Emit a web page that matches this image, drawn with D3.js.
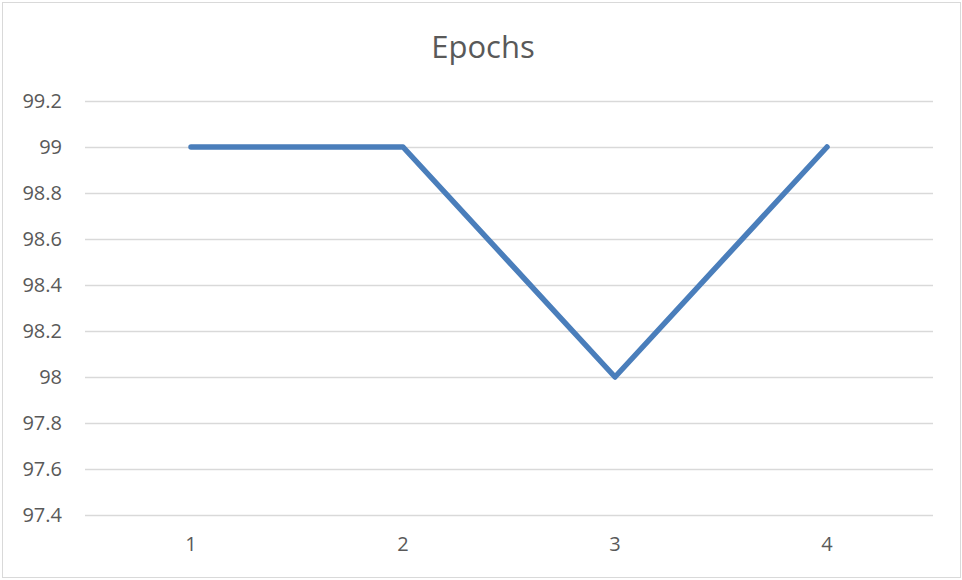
<!DOCTYPE html>
<html>
<head>
<meta charset="utf-8">
<script src="https://cdn.jsdelivr.net/npm/d3@7"></script>
<style>
  html, body { margin: 0; padding: 0; background: #fff; }
  svg { display: block; font-family: "Open Sans", "Noto Sans", sans-serif; }
</style>
</head>
<body>
<svg id="chart" width="962" height="580"></svg>
<script>
// Accuracy per epoch
const categories = ["1", "2", "3", "4"];
const values = [99, 99, 98, 99];
const yTicks = [97.4, 97.6, 97.8, 98, 98.2, 98.4, 98.6, 98.8, 99, 99.2];
const title = "Epochs";

const W = 962, H = 580;
const plot = { left: 85, right: 933, top: 101, bottom: 515 };

const svg = d3.select("#chart");

// outer chart border
svg.append("rect")
  .attr("x", 2.5).attr("y", 2.5)
  .attr("width", W - 4).attr("height", H - 5)
  .attr("fill", "#fff").attr("stroke", "#d9d9d9").attr("stroke-width", 1);

const x = d3.scaleBand().domain(categories).range([plot.left, plot.right]);
const y = d3.scaleLinear().domain([97.4, 99.2]).range([plot.bottom, plot.top]);

// horizontal gridlines
svg.append("g")
  .selectAll("line")
  .data(yTicks)
  .join("line")
  .attr("x1", plot.left).attr("x2", plot.right)
  .attr("y1", d => Math.round(y(d)) + 0.5).attr("y2", d => Math.round(y(d)) + 0.5)
  .attr("stroke", "#d9d9d9").attr("stroke-width", 1.5);

// y axis labels
const yAxis = d3.axisLeft(y).tickValues(yTicks).tickSize(0).tickPadding(0)
  .tickFormat(d => String(+d.toFixed(1)));
svg.append("g")
  .attr("transform", `translate(${plot.left - 23},0)`)
  .call(yAxis)
  .call(g => g.select(".domain").remove())
  .call(g => g.selectAll("text")
    .attr("fill", "#595959").attr("font-size", 20)
    .attr("font-family", "'Open Sans', sans-serif"));

// x axis labels
const xAxis = d3.axisBottom(x).tickSize(0).tickPadding(0);
svg.append("g")
  .attr("transform", `translate(0,${plot.bottom + 22})`)
  .call(xAxis)
  .call(g => g.select(".domain").remove())
  .call(g => g.selectAll("text")
    .attr("fill", "#595959").attr("font-size", 20)
    .attr("font-family", "'Open Sans', sans-serif"));

// data line
const line = d3.line()
  .x((d, i) => x(categories[i]) + x.bandwidth() / 2)
  .y(d => y(d));
svg.append("path")
  .datum(values)
  .attr("d", line)
  .attr("fill", "none")
  .attr("stroke", "#4a7ebb")
  .attr("stroke-width", 5.5)
  .attr("stroke-linejoin", "round")
  .attr("stroke-linecap", "round");

// title
svg.append("text")
  .attr("x", 483).attr("y", 58)
  .attr("text-anchor", "middle")
  .attr("fill", "#595959")
  .attr("font-size", 31)
  .text(title);
</script>
</body>
</html>
